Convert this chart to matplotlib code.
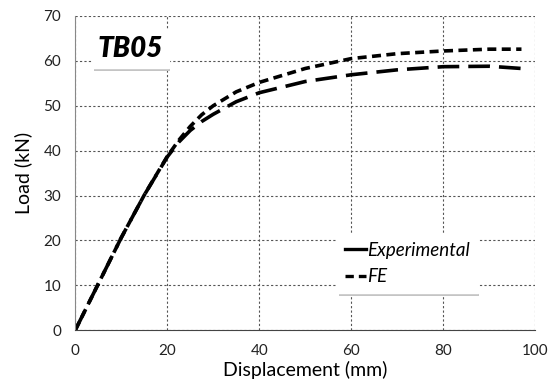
import matplotlib.pyplot as plt
from matplotlib.lines import Line2D
import matplotlib.patheffects as pe

plt.rcParams['font.family'] = ['Lato', 'DejaVu Sans']

exp_x = [0, 5, 10, 15, 20, 22.5, 25, 27.5, 30, 35, 40, 50, 60, 70, 80, 90, 97]
exp_y = [0, 10.3, 20.6, 30.1, 38.6, 41.9, 44.5, 46.5, 48.1, 50.9, 52.9, 55.4, 56.9, 58.0, 58.7, 58.8, 58.3]
fe_x = [0, 5, 10, 15, 20, 22.5, 25, 27.5, 30, 35, 40, 50, 60, 70, 80, 90, 97]
fe_y = [0, 10.3, 20.6, 30.1, 38.7, 42.3, 45.4, 48.0, 50.0, 53.1, 55.2, 58.3, 60.5, 61.6, 62.2, 62.6, 62.6]

fig = plt.figure(figsize=(5.49, 3.89), dpi=100)
ax = fig.add_axes([0.137, 0.151, 0.838, 0.808])

ax.plot(exp_x, exp_y, color='black', lw=2.6, dashes=(6, 2.5))
ax.plot(fe_x, fe_y, color='black', lw=2.6, dashes=(2.5, 1.5))

ax.set_xlim(0, 100)
ax.set_ylim(0, 70)
ax.set_xticks(range(0, 101, 20))
ax.set_yticks(range(0, 71, 10))
ax.grid(True, linestyle=(0, (2, 2)), color='#555555', lw=0.8)
ax.spines['top'].set_visible(False)
ax.spines['right'].set_visible(False)
ax.spines['left'].set_color('#888888')
ax.spines['bottom'].set_color('#444444')
ax.tick_params(length=0, labelsize=11, pad=10, labelcolor='#222222')
ax.set_xlabel('Displacement (mm)', fontsize=14, labelpad=2)
ax.set_ylabel('Load (kN)', fontsize=14, labelpad=8)

shadow = [pe.SimplePatchShadow(offset=(1, -2.5), shadow_rgbFace='#c4c4c4', alpha=1), pe.Normal()]

handles = [Line2D([], [], color='black', lw=2.4),
           Line2D([], [], color='black', lw=2.4, dashes=(2.5, 1.5))]
leg = ax.legend(handles, ['Experimental', 'FE'], loc='upper left',
                bbox_to_anchor=(0.57, 0.305), frameon=True, shadow=False,
                fancybox=False, edgecolor='white', handlelength=1.1,
                handletextpad=0.1, prop={'style': 'italic', 'size': 13.5},
                borderpad=0.4, labelspacing=0.5, borderaxespad=0)
leg.get_frame().set_alpha(1)
leg.get_frame().set_path_effects(shadow)

t = ax.text(0.12, 0.895, 'TB05', transform=ax.transAxes, ha='center', va='center',
            fontsize=20, fontweight='heavy', style='italic', zorder=5,
            bbox=dict(boxstyle='square,pad=0.2', fc='white', ec='white'))
t.get_bbox_patch().set_path_effects(shadow)

fig.savefig('out.png', dpi=100)
